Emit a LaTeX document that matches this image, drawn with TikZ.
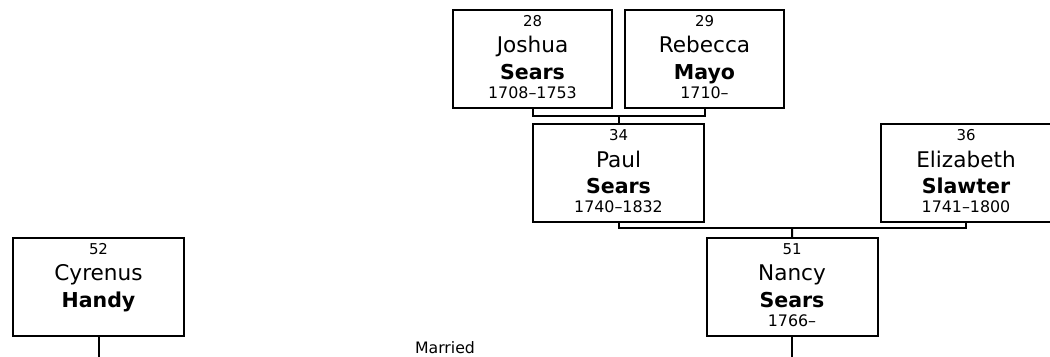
\documentclass[tikz,border=0pt]{standalone}
\usepackage{fontspec}
\setmainfont{DejaVu Sans}
\usetikzlibrary{calc}

% four fixed lines per person: number, given name, surname, dates
\newcommand{\personlines}[4]{%
  \renewcommand{\arraystretch}{0}%
  \begin{tabular}{@{}c@{}}
    \rule[-3.75pt]{0pt}{15.75pt}{\fontsize{11.2}{12}\selectfont #1}\\
    \rule[-3.75pt]{0pt}{20pt}{\fontsize{16.2}{18}\selectfont #2}\\
    \rule[-3.25pt]{0pt}{19.25pt}{\fontsize{15.4}{18}\selectfont\bfseries #3}\\
    \rule[-7.25pt]{0pt}{18.5pt}{\fontsize{11.9}{13}\selectfont #4}
  \end{tabular}}

\begin{document}
\begin{tikzpicture}[
    x=0.75pt, y=-0.75pt,
    person/.style={rectangle, draw=black, line width=1.5pt, inner sep=0pt, minimum height=73.5pt},
    wide/.style={person, minimum width=128.25pt},
    narrow/.style={person, minimum width=119.25pt},
    link/.style={draw=black, line width=1.5pt}
]
    \path[use as bounding box] (0,0) rectangle (1050,357);
    \clip (0,0) rectangle (1050,357);

    % ================= GERACAO 1 =================
    \node[narrow] (joshua) at (532.5, 59.3) {\personlines{28}{Joshua}{Sears}{1708--1753}};
    \node[narrow] (rebecca) at (704.5, 59.3) {\personlines{29}{Rebecca}{Mayo}{1710--}};

    % ================= GERACAO 2 =================
    \node[wide] (paul) at (618.5, 173.4) {\personlines{34}{Paul}{Sears}{1740--1832}};
    \node[wide] (eliz) at (966, 173.4) {\personlines{36}{Elizabeth}{Slawter}{1741--1800}};

    % ================= GERACAO 3 =================
    \node[wide] (nancy) at (792, 287) {\personlines{51}{Nancy}{Sears}{1766--}};
    \node[wide] (cyrenus) at (98.5, 287.3) {\personlines{52}{Cyrenus}{Handy}{}};
    \node[anchor=base, font=\fontsize{11.8}{13}\selectfont] (married) at (445, 353) {Married};

    % ================= LIGACOES =================
    \coordinate (couple1) at (618.5, 116);
    \coordinate (couple2) at (792.25, 228);
    \coordinate (nancyend) at (792, 362);
    \coordinate (cyrenusend) at (98.5, 362);

    \draw[link] (joshua.south) |- (couple1) -| (rebecca.south);
    \draw[link] (couple1) -- (paul.north);
    \draw[link] (paul.south) |- (couple2) -| (eliz.south);
    \draw[link] (couple2) -- (nancy.north);
    \draw[link] (nancy.south) -- (nancyend);
    \draw[link] (cyrenus.south) -- (cyrenusend);

\end{tikzpicture}
\end{document}
